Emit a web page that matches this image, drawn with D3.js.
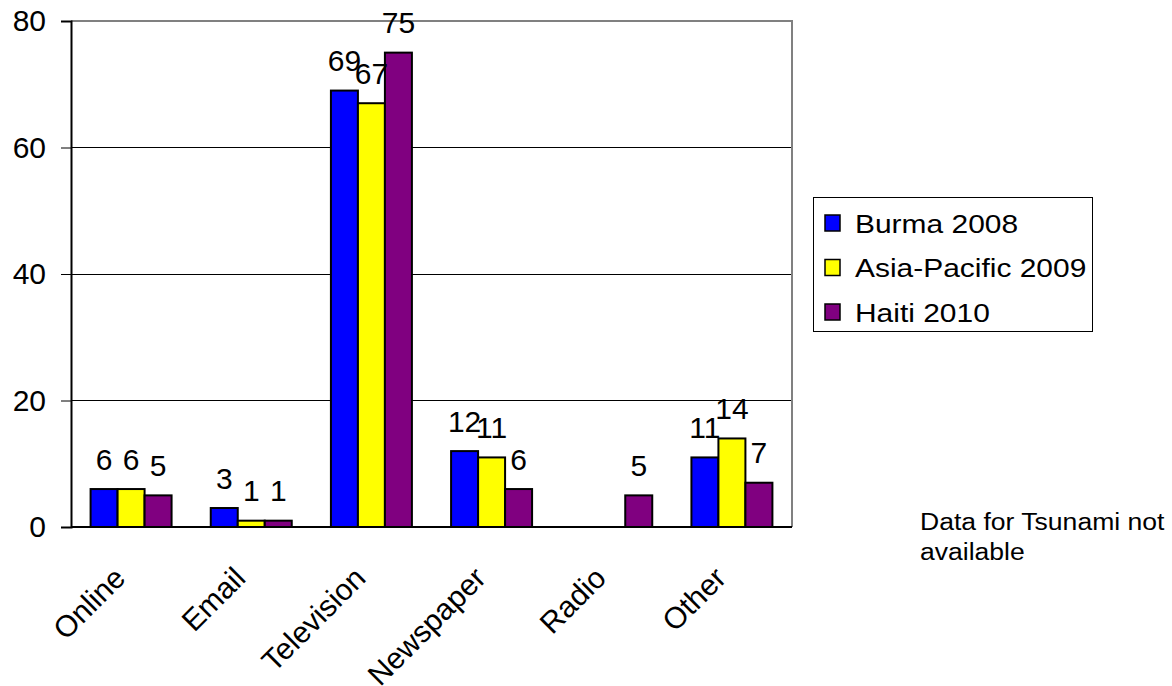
<!DOCTYPE html>
<html>
<head>
<meta charset="utf-8">
<script src="https://cdn.jsdelivr.net/npm/d3@7"></script>
<style>
  html, body { margin: 0; padding: 0; background: #fff; }
  svg { display: block; font-family: "Liberation Sans", Arial, sans-serif; }
</style>
</head>
<body>
<svg id="chart" width="1172" height="686"></svg>
<script>
// Media source by disaster
const categories = ["Online", "Email", "Television", "Newspaper", "Radio", "Other"];
const seriesNames = ["Burma 2008", "Asia-Pacific 2009", "Haiti 2010"];
const burma2008 = [6, 3, 69, 12, null, 11];
const asiaPacific2009 = [6, 1, 67, 11, null, 14];
const haiti2010 = [5, 1, 75, 6, 5, 7];
const seriesColors = ["#0000ff", "#ffff00", "#800080"];
const yTicks = [0, 20, 40, 60, 80];
const noteLines = ["Data for Tsunami not", "available"];

const seriesValues = [burma2008, asiaPacific2009, haiti2010];

const svg = d3.select("#chart");
const plot = { left: 71, right: 792, top: 21, bottom: 527 };

const x0 = d3.scaleBand()
  .domain(categories)
  .range([plot.left, plot.right])
  .paddingInner(0.326)
  .paddingOuter(0.163);

const x1 = d3.scaleBand()
  .domain(seriesNames)
  .range([0, x0.bandwidth()]);

const y = d3.scaleLinear().domain([0, 80]).range([plot.bottom, plot.top]);

// horizontal gridlines
svg.append("g")
  .selectAll("line")
  .data(yTicks.filter(t => t > 0 && t < 80))
  .join("line")
  .attr("x1", plot.left).attr("x2", plot.right)
  .attr("y1", d => y(d)).attr("y2", d => y(d))
  .attr("stroke", "#000").attr("stroke-width", 1)
  .attr("shape-rendering", "crispEdges");

// plot area frame (top and right)
svg.append("path")
  .attr("d", `M${plot.left},${y(80)}H${plot.right}V${plot.bottom}`)
  .attr("fill", "none").attr("stroke", "#808080").attr("stroke-width", 2)
  .attr("shape-rendering", "crispEdges");

// bars
const rows = categories.map((c, i) => ({
  cat: c,
  vals: seriesNames.map((s, j) => ({ s, j, v: seriesValues[j][i] }))
}));

const groups = svg.append("g")
  .selectAll("g")
  .data(rows)
  .join("g")
  .attr("transform", d => `translate(${x0(d.cat)},0)`);

groups.selectAll("rect")
  .data(d => d.vals.filter(e => e.v != null))
  .join("rect")
  .attr("x", e => x1(e.s))
  .attr("y", e => y(e.v))
  .attr("width", x1.bandwidth())
  .attr("height", e => y(0) - y(e.v))
  .attr("fill", e => seriesColors[e.j])
  .attr("stroke", "#000")
  .attr("stroke-width", 2);

// value labels
groups.selectAll("text")
  .data(d => d.vals.filter(e => e.v != null))
  .join("text")
  .attr("x", e => x1(e.s) + x1.bandwidth() / 2)
  .attr("y", e => y(e.v) - 19.5)
  .attr("text-anchor", "middle")
  .attr("font-size", 30)
  .attr("fill", "#000")
  .text(e => e.v);

// y axis
const yAxis = svg.append("g")
  .attr("transform", `translate(${plot.left},0)`)
  .call(d3.axisLeft(y).tickValues(yTicks).tickSize(10).tickPadding(15));
yAxis.select(".domain").attr("stroke", "#000").attr("stroke-width", 2);
yAxis.selectAll(".tick line").attr("stroke", "#000");
yAxis.selectAll(".tick text")
  .attr("font-size", 30)
  .attr("font-family", "Liberation Sans, Arial, sans-serif")
  .attr("fill", "#000");

// x axis
const xAxis = svg.append("g")
  .attr("transform", `translate(0,${plot.bottom})`)
  .call(d3.axisBottom(x0).tickSize(0).tickPadding(0));
xAxis.select(".domain").attr("stroke", "#000").attr("stroke-width", 2)
  .attr("d", `M${plot.left},0H${plot.right}`);
xAxis.selectAll(".tick text")
  .attr("font-size", 30)
  .attr("font-family", "Liberation Sans, Arial, sans-serif")
  .attr("fill", "#000")
  .attr("text-anchor", "end")
  .attr("dy", null)
  .attr("y", null)
  .attr("transform", "translate(-4,53) rotate(-45)");

// legend
const legend = svg.append("g");
legend.append("rect")
  .attr("x", 813.5).attr("y", 197.5)
  .attr("width", 279).attr("height", 134)
  .attr("fill", "#fff").attr("stroke", "#000").attr("stroke-width", 1);

const legendRow = d3.scalePoint().domain(seriesNames).range([223, 312]);
const items = legend.selectAll("g.item")
  .data(seriesNames)
  .join("g")
  .attr("class", "item")
  .attr("transform", d => `translate(825,${legendRow(d)})`);
items.append("rect")
  .attr("x", 0).attr("y", -8)
  .attr("width", 15).attr("height", 16)
  .attr("fill", (d, i) => seriesColors[i])
  .attr("stroke", "#000").attr("stroke-width", 1.5);
items.append("text")
  .attr("transform", "translate(30,9.5) scale(1.13,1)")
  .attr("font-size", 26.5)
  .attr("fill", "#000")
  .text(d => d);

// note
svg.append("g")
  .selectAll("text")
  .data(noteLines)
  .join("text")
  .attr("transform", (d, i) => `translate(920,${530 + i * 29.5}) scale(1.13,1)`)
  .attr("font-size", 23.5)
  .attr("fill", "#000")
  .text(d => d);
</script>
</body>
</html>
